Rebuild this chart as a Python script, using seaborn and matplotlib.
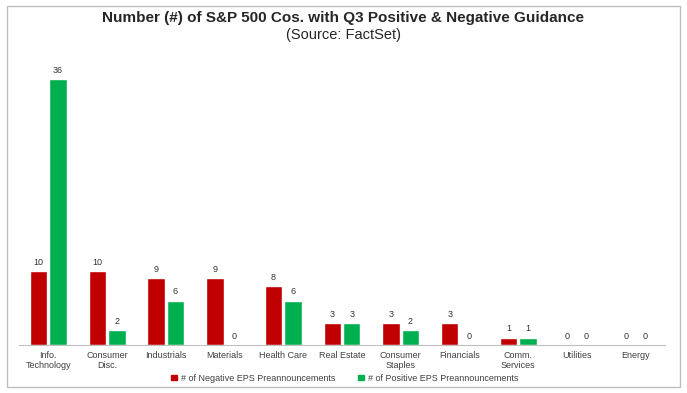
import pandas as pd
import matplotlib.pyplot as plt
import seaborn as sns
from matplotlib.patches import Rectangle

sectors = ['Info.\nTechnology', 'Consumer\nDisc.', 'Industrials', 'Materials', 'Health Care',
           'Real Estate', 'Consumer\nStaples', 'Financials', 'Comm.\nServices', 'Utilities', 'Energy']
negative = [10, 10, 9, 9, 8, 3, 3, 3, 1, 0, 0]
positive = [36, 2, 6, 0, 6, 3, 2, 0, 1, 0, 0]
series = ['# of Negative EPS Preannouncements', '# of Positive EPS Preannouncements']
colors = ['#C00000', '#00B050']

df = pd.DataFrame({
    'Sector': sectors * 2,
    'Count': negative + positive,
    'Series': [series[0]] * len(sectors) + [series[1]] * len(sectors),
})

sns.set_style('white')
plt.rcParams['font.family'] = ['Liberation Sans', 'DejaVu Sans']

fig = plt.figure(figsize=(6.87, 3.93), dpi=100)
ax = fig.add_axes([19 / 687, 0.122, 646 / 687, 0.753])

sns.barplot(data=df, x='Sector', y='Count', hue='Series', palette=colors, saturation=1,
            width=0.66, gap=0.1, ax=ax, legend=False)

for cont in ax.containers:
    ax.bar_label(cont, fmt='%d', padding=3, fontsize=6.5, color='#333333')

ax.set_ylim(0, 40)
ax.set_xlim(-0.5, len(sectors) - 0.5)
ax.set_yticks([])
ax.set_xlabel('')
ax.set_ylabel('')
for s in ['top', 'right', 'left']:
    ax.spines[s].set_visible(False)
ax.spines['bottom'].set_color('#BFBFBF')
ax.tick_params(axis='x', length=0, labelsize=6.5, colors='#404040', pad=4)

fig.text(0.5, 0.953, 'Number (#) of S&P 500 Cos. with Q3 Positive & Negative Guidance',
         ha='center', va='center', fontsize=11, fontweight='bold')
fig.text(0.5, 0.912, '(Source: FactSet)', ha='center', va='center', fontsize=10.5)

handles = [Rectangle((0, 0), 1, 1, color=c) for c in colors]
fig.legend(handles, series, loc='center', bbox_to_anchor=(0.502, 0.038), ncol=2, frameon=False,
           fontsize=6.5, handlelength=0.6, handleheight=0.6, handletextpad=0.5, columnspacing=2.5,
           labelcolor='#404040')

fig.add_artist(Rectangle((7 / 687, 6 / 393), 673 / 687, 381 / 393, transform=fig.transFigure,
                         fill=False, edgecolor='#BFBFBF', linewidth=1))

fig.savefig('out.png', dpi=100)
